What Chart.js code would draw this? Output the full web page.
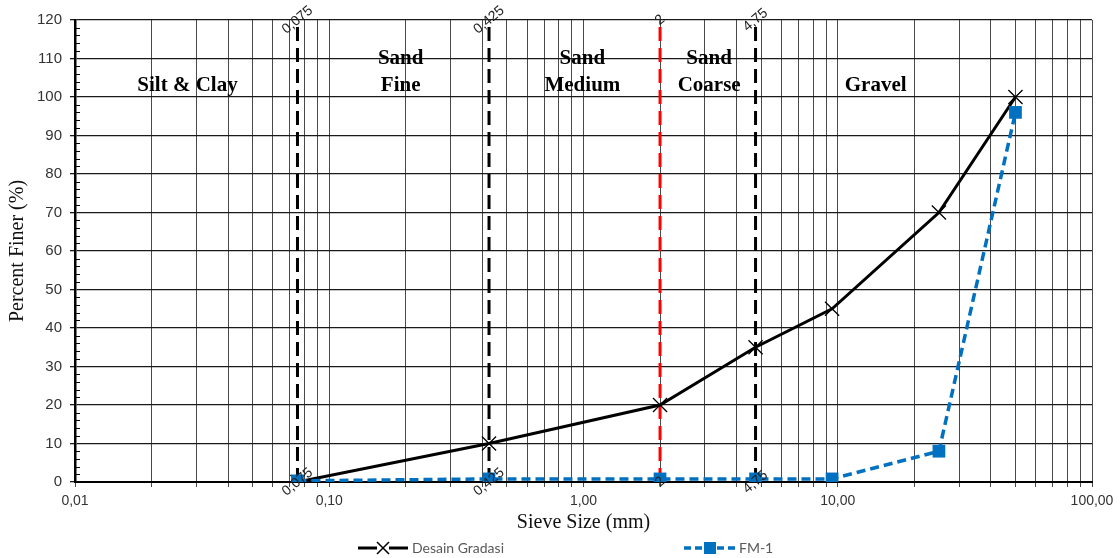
<!DOCTYPE html>
<html><head><meta charset="utf-8">
<script src="https://cdn.jsdelivr.net/npm/chart.js@4.4.1/dist/chart.umd.min.js"></script>
<style>html,body{margin:0;padding:0;background:#fff;} #wrap{width:1120px;height:558px;position:relative;}</style>
</head><body><div id="wrap"><canvas id="c" width="1120" height="558"></canvas></div>
<script>
// ---- data ----
const sieveSizes = [0.075, 0.425, 2, 4.75, 9.5, 25, 50];
const desainGradasi = [0, 10, 20, 35, 45, 70, 100];
const fm1 = [0.3, 0.8, 0.8, 0.8, 0.8, 8, 96];
const boundarySizes = [0.075, 0.425, 2, 4.75];
const boundaryLabels = ['0,075', '0,425', '2', '4,75'];
const boundaryColors = ['#000000', '#000000', '#ff0000', '#000000'];
const zoneNames = [['Silt & Clay'], ['Sand', 'Fine'], ['Sand', 'Medium'], ['Sand', 'Coarse'], ['Gravel']];
const zoneLabelX = [0.0277, 0.191, 0.99, 3.12, 14.1];
const zoneLabelY = [110, 103];
const xDecades = [0.01, 0.1, 1, 10, 100];
const xTickLabels = ['0,01', '0,10', '1,00', '10,00', '100,00'];
const yMin = 0, yMax = 120, yStep = 10, yMinorStep = 2;
const seriesNames = ['Desain Gradasi', 'FM-1'];

const BLUE = '#0070C0';

// all grid positions on the log axis: 1..9 x each decade
const xGrid = [];
for (let d = 0; d < xDecades.length - 1; d++) {
  for (let m = 1; m < 10; m++) xGrid.push(xDecades[d] * m);
}
xGrid.push(xDecades[xDecades.length - 1]);

const datasets = [
  {
    label: seriesNames[0],
    data: sieveSizes.map((s, i) => ({x: s, y: desainGradasi[i]})),
    showLine: true, borderColor: '#000', backgroundColor: '#000', borderWidth: 3,
    pointStyle: 'crossRot', pointRadius: 10, pointBorderWidth: 1.3, pointBorderColor: '#000',
    order: 2
  },
  {
    label: seriesNames[1],
    data: sieveSizes.map((s, i) => ({x: s, y: fm1[i]})),
    showLine: true, borderColor: BLUE, backgroundColor: BLUE, borderWidth: 3.5,
    borderDash: [9, 5],
    pointStyle: 'rect', pointRadius: 9, pointBorderWidth: 0, pointBackgroundColor: BLUE,
    order: 1
  }
];
boundarySizes.forEach((s, i) => {
  datasets.push({
    label: 'b' + i,
    data: [{x: s, y: yMin}, {x: s, y: yMax}],
    showLine: true, borderColor: boundaryColors[i], borderWidth: 3,
    borderDash: [14, 7], pointRadius: 0, order: 10
  });
});

const overlay = {
  id: 'overlay',
  afterDatasetsDraw(chart) {
    const {ctx} = chart;
    const x = chart.scales.x, y = chart.scales.y;
    ctx.save();
    // minor y ticks inside axis
    ctx.strokeStyle = '#000'; ctx.lineWidth = 1;
    for (let v = yMin; v <= yMax; v += yMinorStep) {
      if (v % yStep === 0) continue;
      const py = Math.round(y.getPixelForValue(v)) + 0.5;
      ctx.beginPath(); ctx.moveTo(x.left, py); ctx.lineTo(x.left + 5, py); ctx.stroke();
    }
    // zone labels
    ctx.font = 'bold 21px "Liberation Serif"';
    ctx.textAlign = 'center'; ctx.textBaseline = 'middle'; ctx.fillStyle = '#000';
    zoneNames.forEach((lines, i) => {
      const px = x.getPixelForValue(zoneLabelX[i]);
      const ys = lines.length === 1 ? [zoneLabelY[1]] : zoneLabelY;
      lines.forEach((t, j) => ctx.fillText(t, px, y.getPixelForValue(ys[j])));
    });
    // boundary labels at both ends
    ctx.font = '14px "Liberation Sans"'; ctx.fillStyle = '#222';
    boundarySizes.forEach((s, i) => {
      [yMin, yMax].forEach(v => {
        ctx.save();
        ctx.translate(x.getPixelForValue(s), y.getPixelForValue(v));
        ctx.rotate(-40 * Math.PI / 180);
        ctx.fillText(boundaryLabels[i], 0, 0);
        ctx.restore();
      });
    });
    ctx.restore();
  },
  afterDraw(chart) {
    const {ctx} = chart;
    const ly = 548;
    ctx.save();
    // item 1
    ctx.strokeStyle = '#000'; ctx.lineWidth = 3;
    ctx.beginPath(); ctx.moveTo(358, ly); ctx.lineTo(408, ly); ctx.stroke();
    ctx.lineWidth = 1.5;
    const r = 6;
    ctx.fillStyle = '#fff'; ctx.fillRect(383 - r, ly - r, 2 * r, 2 * r);
    ctx.beginPath(); ctx.moveTo(383 - r, ly - r); ctx.lineTo(383 + r, ly + r);
    ctx.moveTo(383 - r, ly + r); ctx.lineTo(383 + r, ly - r); ctx.stroke();
    // item 2
    ctx.strokeStyle = BLUE; ctx.lineWidth = 3.5; ctx.setLineDash([7, 4]);
    ctx.beginPath(); ctx.moveTo(684, ly); ctx.lineTo(736, ly); ctx.stroke();
    ctx.setLineDash([]);
    ctx.fillStyle = BLUE; ctx.fillRect(704, ly - 6, 12, 12);
    // texts
    ctx.font = '14px Lato'; ctx.fillStyle = '#595959';
    ctx.textAlign = 'left'; ctx.textBaseline = 'middle';
    ctx.fillText(seriesNames[0], 412, ly);
    ctx.fillText(seriesNames[1], 739, ly);
    ctx.restore();
  }
};

new Chart(document.getElementById('c'), {
  type: 'scatter',
  data: {datasets},
  plugins: [overlay],
  options: {
    responsive: false, animation: false, devicePixelRatio: 1,
    layout: {padding: {left: 0, right: 28, top: 20, bottom: 22}},
    plugins: {legend: {display: false}, tooltip: {enabled: false}},
    scales: {
      x: {
        type: 'logarithmic', min: xDecades[0], max: xDecades[xDecades.length - 1],
        afterBuildTicks(scale) { scale.ticks = xGrid.map(v => ({value: v})); },
        afterFit(scale) { scale.height = 54; },
        ticks: {
          autoSkip: false, maxRotation: 0, minRotation: 0, padding: 6,
          color: '#333', font: {family: '"Liberation Sans"', size: 14},
          callback(value) {
            const i = xDecades.findIndex(d => Math.abs(Math.log10(d / value)) < 1e-6);
            return i >= 0 ? xTickLabels[i] : '';
          }
        },
        grid: {color: '#4a4a4a', lineWidth: 1, tickLength: 5},
        border: {color: '#000', width: 2},
        title: {display: true, text: 'Sieve Size (mm)', color: '#111',
          font: {family: '"Liberation Serif"', size: 20}, padding: {top: 0, bottom: 1}}
      },
      y: {
        min: yMin, max: yMax,
        afterFit(scale) { scale.width = 75; },
        ticks: {stepSize: yStep, padding: 8, color: '#333',
          font: {family: '"Liberation Sans"', size: 15}},
        grid: {color: '#1a1a1a', lineWidth: 1.3, tickLength: 5},
        border: {color: '#000', width: 2.5},
        title: {display: true, text: 'Percent Finer (%)', color: '#111',
          font: {family: '"Liberation Serif"', size: 20}, padding: {top: 6, bottom: 0}}
      }
    }
  }
});
</script>
</body></html>
